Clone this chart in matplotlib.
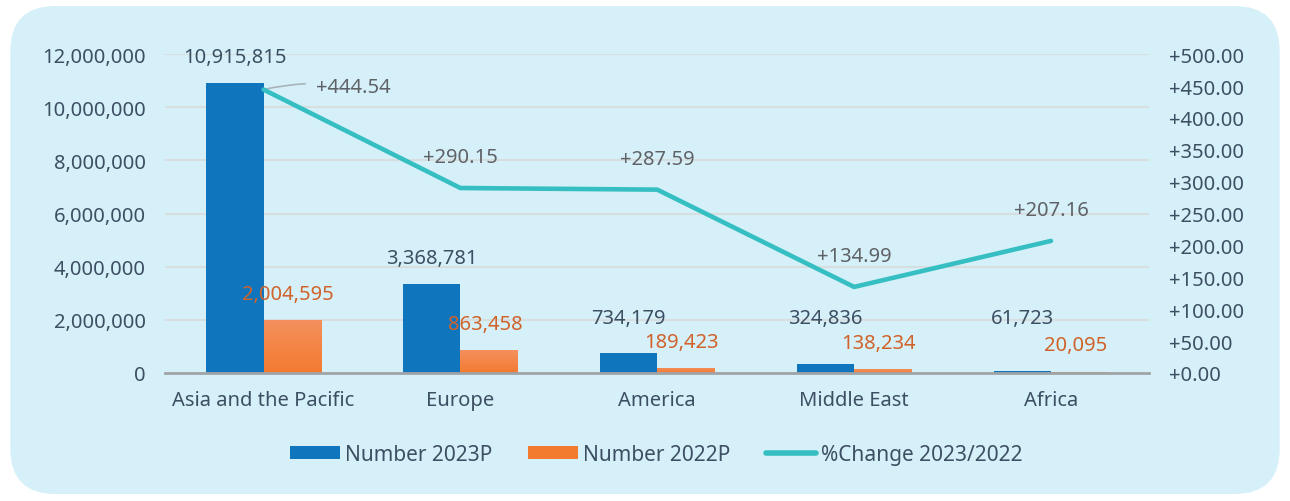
import matplotlib.pyplot as plt
import numpy as np
from matplotlib.patches import FancyBboxPatch, Patch
from matplotlib.lines import Line2D
from matplotlib.ticker import FuncFormatter
from matplotlib.colors import LinearSegmentedColormap

regions = ['Asia and the Pacific', 'Europe', 'America', 'Middle East', 'Africa']
number_2023 = [10915815, 3368781, 734179, 324836, 61723]
number_2022 = [2004595, 863458, 189423, 138234, 20095]
pct_change = [444.54, 290.15, 287.59, 134.99, 207.16]

BLUE = '#0f75bd'
ORANGE = '#f37b30'
ORANGE_TOP = '#f4905e'
TEAL = '#36bfc2'
TEXT = '#3d4f63'
GRAY_TEXT = '#5f6266'
LABEL_ORANGE = '#d0622a'
BG = '#d5f0f9'

plt.rcParams['font.family'] = ['Noto Sans', 'DejaVu Sans']

fig = plt.figure(figsize=(12.9, 5.02), dpi=100)
fig.patch.set_facecolor('white')
fig.patches.append(FancyBboxPatch((0.008, 0.014), 0.984, 0.972,
                                  boxstyle='round,pad=0,rounding_size=0.035',
                                  mutation_aspect=1290/502,
                                  transform=fig.transFigure, facecolor=BG,
                                  edgecolor='none', zorder=-10))

ax = fig.add_axes([0.128, 0.255, 0.763, 0.635])
ax.set_facecolor('none')
x = np.arange(len(regions))
w = 0.29

ax.bar(x - w / 2, number_2023, w, color=BLUE, zorder=3)

# orange bars with a light vertical gradient
grad = np.linspace(0, 1, 100).reshape(-1, 1)
ocmap = LinearSegmentedColormap.from_list('o', [ORANGE, ORANGE_TOP])
obars = ax.bar(x + w / 2, number_2022, w, color=ORANGE, zorder=3)
for b in obars:
    bx, by = b.get_x(), b.get_y()
    bw, bh = b.get_width(), b.get_height()
    im = ax.imshow(grad, extent=[bx, bx + bw, by, by + bh], origin='lower',
                   cmap=ocmap, aspect='auto', zorder=3.1)
    im.set_clip_path(b)

ax.set_xlim(-0.5, len(regions) - 0.5)
ax.set_ylim(0, 12000000)
ax.set_yticks(np.arange(0, 12000001, 2000000))
ax.yaxis.set_major_formatter(FuncFormatter(lambda v, p: f'{v:,.0f}'))
ax.set_xticks(x)
ax.set_xticklabels(regions)
ax.grid(axis='y', color='#d8dde0', linewidth=1.5, zorder=0)
for s in ['top', 'right', 'left']:
    ax.spines[s].set_visible(False)
ax.spines['bottom'].set_color('#a0a4a8')
ax.spines['bottom'].set_linewidth(2)
ax.spines['bottom'].set_zorder(4)
ax.tick_params(axis='both', length=0, labelsize=14.5, colors=TEXT)
ax.tick_params(axis='y', pad=14)
ax.tick_params(axis='x', pad=12)

# data labels: sit above the bar, but not lower than a minimum height
px = 12000000 / (0.635 * 502)
for i in range(len(regions)):
    yb = max(number_2023[i] + 26 * px, 55 * px)
    ax.text(x[i] - w / 2, yb, f'{number_2023[i]:,}', ha='center', va='center',
            fontsize=14.5, color=TEXT, zorder=5)
    yo = max(number_2022[i] + 26 * px, 28 * px)
    ax.text(x[i] + w / 2 - 0.02, yo, f'{number_2022[i]:,}', ha='center', va='center',
            fontsize=14.5, color=LABEL_ORANGE, zorder=5)

ax2 = ax.twinx()
ax2.set_ylim(0, 500)
ax2.set_yticks(np.arange(0, 501, 50))
ax2.yaxis.set_major_formatter(FuncFormatter(lambda v, p: f'+{v:.2f}'))
ax2.plot(x, pct_change, color=TEAL, linewidth=3.3, solid_capstyle='round', zorder=6)
for s in ax2.spines.values():
    s.set_visible(False)
ax2.tick_params(axis='y', length=0, labelsize=14.5, colors=TEXT, pad=14)

for i, v in enumerate(pct_change):
    if i == 0:
        ax2.annotate(f'+{v:.2f}', xy=(x[i], v), xytext=(38, 2),
                     textcoords='offset points', ha='left', va='center',
                     fontsize=14.5, color=GRAY_TEXT,
                     arrowprops=dict(arrowstyle='-', color='#a9b3bb', lw=1.2,
                                     shrinkA=6, shrinkB=0,
                                     connectionstyle='arc3,rad=0.1'))
    else:
        ax2.annotate(f'+{v:.2f}', xy=(x[i], v), xytext=(0, 22),
                     textcoords='offset points', ha='center', va='center',
                     fontsize=14.5, color=GRAY_TEXT)

handles = [Patch(facecolor=BLUE), Patch(facecolor=ORANGE),
           Line2D([0], [0], color=TEAL, linewidth=4, solid_capstyle='round')]
labels = ['Number 2023P', 'Number 2022P', '%Change 2023/2022']
leg = fig.legend(handles, labels, loc='center', bbox_to_anchor=(0.509, 0.093),
                 ncol=3, frameon=False, fontsize=15, handlelength=2.4,
                 handleheight=0.6, handletextpad=0.25, columnspacing=1.7)
for t in leg.get_texts():
    t.set_color(TEXT)

fig.savefig('out.png', dpi=100)
